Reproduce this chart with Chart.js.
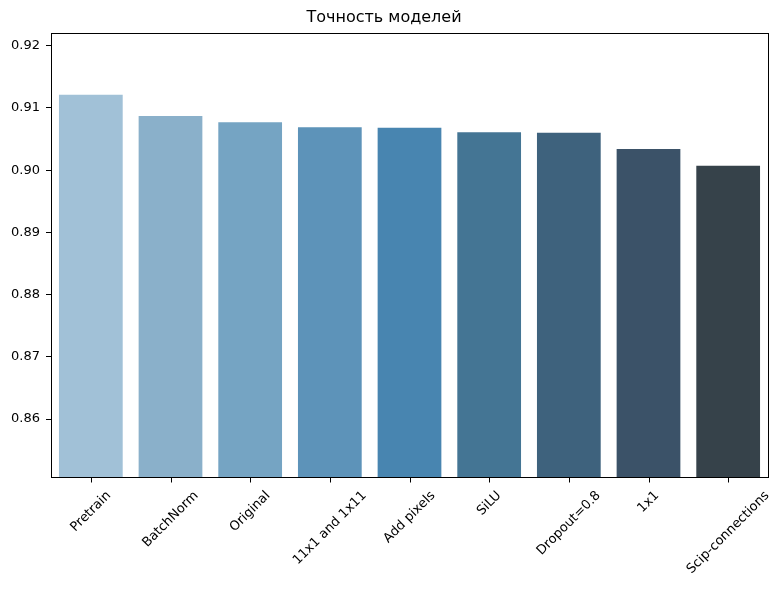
<!DOCTYPE html>
<html>
<head>
<meta charset="utf-8">
<script src="https://cdn.jsdelivr.net/npm/chart.js@4"></script>
<style>
  body { margin: 0; background: #fff; }
</style>
</head>
<body>
<canvas id="chart" width="784" height="590"></canvas>
<script>
const models = ["Pretrain", "BatchNorm", "Original", "11x1 and 1x11", "Add pixels", "SiLU", "Dropout=0.8", "1x1", "Scip-connections"];
const accuracy = [0.9121, 0.9087, 0.9077, 0.9069, 0.9068, 0.9061, 0.9060, 0.9034, 0.9007];
const barColors = ["#a1c1d7", "#8ab0ca", "#75a4c3", "#5d93b9", "#4885b0", "#447594", "#3e627d", "#3b5268", "#36424a"];
const yTicks = [0.86, 0.87, 0.88, 0.89, 0.90, 0.91, 0.92];

const font = "DejaVu Sans";

// matplotlib-style frame, x tick marks and centred rotated labels
const mplPlugin = {
  id: "mpl",
  afterDraw(chart) {
    const ctx = chart.ctx;
    const area = chart.chartArea;
    const x = chart.scales.x;
    const bottom = Math.round(area.bottom) + 0.5;
    ctx.save();
    ctx.strokeStyle = "#000";
    ctx.lineWidth = 1;
    ctx.strokeRect(Math.round(area.left) + 0.5, Math.round(area.top) + 0.5,
      Math.round(area.right - area.left), Math.round(area.bottom - area.top));

    ctx.font = "13px '" + font + "'";
    ctx.fillStyle = "#000";
    ctx.textAlign = "center";
    ctx.textBaseline = "middle";
    const h = 13;
    models.forEach((label, i) => {
      const tx = x.getPixelForValue(i);
      ctx.beginPath();
      ctx.moveTo(Math.round(tx) + 0.5, bottom);
      ctx.lineTo(Math.round(tx) + 0.5, bottom + 5);
      ctx.stroke();

      const w = ctx.measureText(label).width;
      const side = (w + h) * Math.SQRT1_2;
      const cy = area.bottom + 12 + side / 2;
      ctx.save();
      ctx.translate(tx, cy);
      ctx.rotate(-Math.PI / 4);
      ctx.fillText(label, 0, 0);
      ctx.restore();
    });
    ctx.restore();
  }
};

new Chart(document.getElementById("chart"), {
  type: "bar",
  data: {
    labels: models,
    datasets: [{
      data: accuracy,
      backgroundColor: barColors,
      barPercentage: 0.8,
      categoryPercentage: 1
    }]
  },
  options: {
    responsive: false,
    animation: false,
    layout: { padding: { left: 0, right: 16, top: 0, bottom: 0 } },
    plugins: {
      legend: { display: false },
      tooltip: { enabled: false },
      title: {
        display: true,
        text: "Точность моделей",
        color: "#000",
        font: { family: font, size: 16, weight: "normal" },
        padding: { top: 8, bottom: 6 }
      }
    },
    scales: {
      x: {
        grid: { display: false },
        border: { color: "#000" },
        ticks: { display: false },
        afterFit(scale) { scale.height = 113; }
      },
      y: {
        min: 0.8507,
        max: 0.9220,
        afterBuildTicks(scale) { scale.ticks = yTicks.map(v => ({ value: v })); },
        grid: { drawOnChartArea: false, drawTicks: true, tickLength: 5, tickColor: "#000" },
        border: { color: "#000" },
        ticks: {
          color: "#000",
          padding: 6,
          font: { family: font, size: 13 },
          callback: v => v.toFixed(2)
        },
        afterFit(scale) { scale.width = 51; }
      }
    }
  },
  plugins: [mplPlugin]
});
</script>
</body>
</html>
